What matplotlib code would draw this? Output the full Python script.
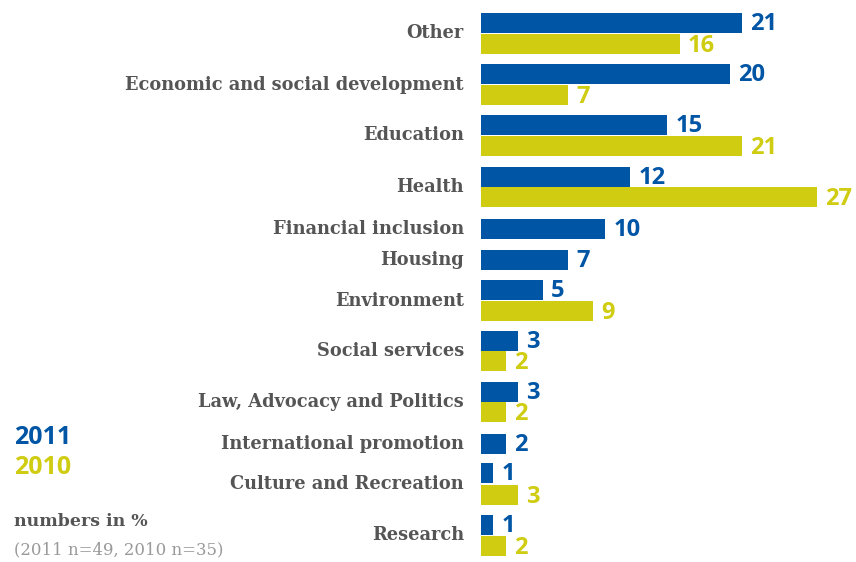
import matplotlib.pyplot as plt

categories = ["Other", "Economic and social development", "Education", "Health",
              "Financial inclusion", "Housing", "Environment", "Social services",
              "Law, Advocacy and Politics", "International promotion",
              "Culture and Recreation", "Research"]
values_2011 = [21, 20, 15, 12, 10, 7, 5, 3, 3, 2, 1, 1]
values_2010 = [16, 7, 21, 27, None, None, 9, 2, 2, None, 3, 2]

# row layout (vertical pixel positions, top = 0)
blue_y = [23, 74, 125, 177, 229, 260, 290, 341, 392, 444, 473, 525]
yellow_y = [44, 95, 146, 197, None, None, 311, 361, 412, None, 495, 546]

BLUE = "#0055a5"
YELLOW = "#cfcc12"
GREY = "#555555"

W, H = 856, 562
fig = plt.figure(figsize=(W / 100, H / 100), dpi=100)

x0 = 481
unit = 12.43
ax = fig.add_axes([x0 / W, 0, 1 - x0 / W, 1])
ax.set_xlim(0, (W - x0) / unit)
ax.set_ylim(H, 0)
ax.axis("off")

bar_h = 19.5
off = 8 / unit
num_font = dict(fontsize=17, fontweight="bold", family="Open Sans")
cat_font = dict(fontsize=12.8, fontweight="bold", family="DejaVu Serif")
for i, cat in enumerate(categories):
    v = values_2011[i]
    ax.barh(blue_y[i], v, height=bar_h, color=BLUE)
    ax.text(v + off, blue_y[i] + 1, str(v), color=BLUE, va="center",
            ha="left", **num_font)
    if values_2010[i] is not None:
        v2 = values_2010[i]
        ax.barh(yellow_y[i], v2, height=bar_h, color=YELLOW)
        ax.text(v2 + off, yellow_y[i] + 2, str(v2), color=YELLOW, va="center",
                ha="left", **num_font)
        label_y = (blue_y[i] + yellow_y[i]) / 2
    else:
        label_y = blue_y[i]
    fig.text(464 / W, 1 - label_y / H, cat, ha="right", va="center",
             color=GREY, **cat_font)

fig.text(14 / W, 1 - 437 / H, "2011", color=BLUE, fontsize=18,
         fontweight="bold", family="Open Sans", va="center")
fig.text(14 / W, 1 - 468 / H, "2010", color=YELLOW, fontsize=18,
         fontweight="bold", family="Open Sans", va="center")
fig.text(14 / W, 1 - 522 / H, "numbers in %", color=GREY, fontsize=12.5,
         fontweight="bold", family="DejaVu Serif", va="center")
fig.text(14 / W, 1 - 550 / H, "(2011 n=49, 2010 n=35)", color="#999999",
         fontsize=11.9, family="DejaVu Serif", va="center")

fig.savefig("out.png", dpi=100)
